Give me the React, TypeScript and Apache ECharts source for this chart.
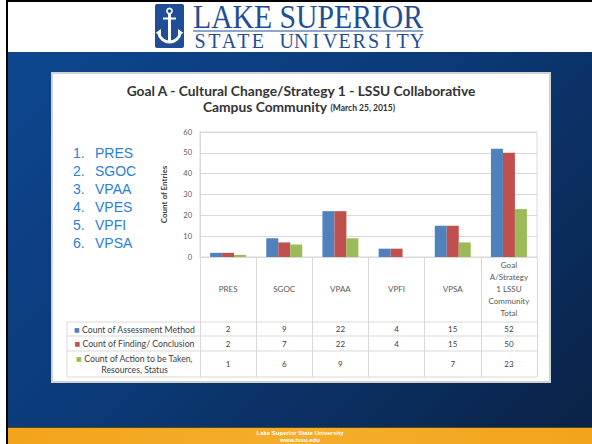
import React, { useEffect, useRef } from 'react';
import * as echarts from 'echarts';

const categories = ['PRES', 'SGOC', 'VPAA', 'VPFI', 'VPSA', 'Goal\nA/Strategy\n1 LSSU\nCommunity\nTotal'];
const assessment = [2, 9, 22, 4, 15, 52];
const finding = [2, 7, 22, 4, 15, 50];
const action: (number | null)[] = [1, 6, 9, null, 7, 23];
const seriesNames = ['Count of Assessment Method', 'Count of Finding/ Conclusion', 'Count of Action to be Taken,\nResources, Status'];
const seriesColors = ['#4f81bd', '#c0504d', '#9bbb59'];
const unitList = ['PRES', 'SGOC', 'VPAA', 'VPES', 'VPFI', 'VPSA'];
const titleLine1 = 'Goal A - Cultural Change/Strategy 1 - LSSU Collaborative';
const titleLine2 = 'Campus Community';
const titleDate = '(March 25, 2015)';
const yMin = 0;
const yMax = 60;
const yStep = 10;

export default function App() {
  const ref = useRef<HTMLDivElement>(null);
  useEffect(() => {
    const chart = echarts.init(ref.current!, null, { renderer: 'svg' });
    const seriesData = [assessment, finding, action];
    const gridLeft = 200, gridTop = 132, gridW = 337, gridH = 125;
    chart.setOption({
      animation: false,
      backgroundColor: 'transparent',
      textStyle: { fontFamily: 'Lato' },
      grid: { left: gridLeft, top: gridTop, width: gridW, height: gridH, show: true, borderColor: '#d9d9d9', borderWidth: 1 },
      xAxis: {
        type: 'category',
        data: categories,
        axisLine: { lineStyle: { color: '#d9d9d9' } },
        axisTick: { show: true, length: 120, interval: 0, lineStyle: { color: '#d9d9d9' } },
        axisLabel: { interval: 0, margin: 32, verticalAlign: 'middle', lineHeight: 12, fontSize: 8, color: '#595959', fontFamily: 'Lato' },
      },
      yAxis: {
        type: 'value', min: yMin, max: yMax, interval: yStep,
        axisLine: { show: true, lineStyle: { color: '#d9d9d9' } },
        axisTick: { show: false },
        axisLabel: { fontSize: 7.5, color: '#595959', margin: 8, fontFamily: 'Lato' },
        splitLine: { lineStyle: { color: '#d9d9d9' } },
        name: 'Count of Entries', nameLocation: 'middle', nameGap: 32, nameRotate: 90,
        nameTextStyle: { fontSize: 8, fontWeight: 'bold', color: '#404040', fontFamily: 'Lato' },
      },
      series: seriesData.map((d, i) => ({
        type: 'bar', name: seriesNames[i], data: d, barGap: 0, barCategoryGap: '36%',
        itemStyle: { color: seriesColors[i] },
      })),
    });

    const centers = categories.map((_, i) => chart.convertToPixel({ xAxisIndex: 0 }, i) as number);
    const tableLeft = 67;
    const rowEdges = [322, 336, 351, 377];
    const gridRight = gridLeft + gridW;
    const g: any[] = [];
    // Logo
    g.push({ type: 'rect', shape: { x: 155, y: 4, width: 29, height: 44, r: 2 }, style: { fill: '#1f4e96' } });
    g.push({ type: 'circle', shape: { cx: 169.5, cy: 11, r: 2.6 }, style: { fill: 'none', stroke: '#fff', lineWidth: 1.6 } });
    g.push({ type: 'line', shape: { x1: 169.5, y1: 13.5, x2: 169.5, y2: 43 }, style: { stroke: '#fff', lineWidth: 3 } });
    g.push({ type: 'line', shape: { x1: 163, y1: 18.5, x2: 176, y2: 18.5 }, style: { stroke: '#fff', lineWidth: 2 } });
    g.push({ type: 'arc', shape: { cx: 169.5, cy: 31, r: 11, startAngle: 0.15, endAngle: Math.PI - 0.15 }, style: { fill: 'none', stroke: '#fff', lineWidth: 3 } });
    g.push({ type: 'polygon', shape: { points: [[155.5, 33], [161, 29], [161, 35]] }, style: { fill: '#fff' } });
    g.push({ type: 'polygon', shape: { points: [[183.5, 33], [178, 29], [178, 35]] }, style: { fill: '#fff' } });
    g.push({ type: 'text', x: 193, y: 17, scaleX: 0.9, style: { text: 'LAKE SUPERIOR', x: 0, y: 0, fontFamily: 'Liberation Serif', fontSize: 33, fill: '#1f4e96', textVerticalAlign: 'middle' } });
    g.push({ type: 'line', shape: { x1: 193, y1: 31, x2: 423, y2: 31 }, style: { stroke: '#1f4e96', lineWidth: 1.2 } });
    const st = 'STATE UNIVERSITY';
    let k = 0;
    for (let i = 0; i < st.length; i++) {
      if (st[i] === ' ') { k++; continue; }
      g.push({ type: 'text', style: { text: st[i], x: 200 + k * 14.47, y: 40.5, fontFamily: 'Liberation Serif', fontSize: 20, fill: '#1f4e96', textAlign: 'center', textVerticalAlign: 'middle' } });
      k++;
    }
    // Title
    g.push({ type: 'text', style: { text: titleLine1, x: 301, y: 90, fontFamily: 'Lato', fontWeight: 'bold', fontSize: 13.8, lineHeight: 14, fill: '#333', textAlign: 'center', textVerticalAlign: 'middle' } });
    g.push({ type: 'text', style: { text: '{a|' + titleLine2 + '} {b|' + titleDate + '}', x: 299, y: 106, textAlign: 'center', textVerticalAlign: 'middle',
      rich: { a: { fontFamily: 'Lato', fontWeight: 'bold', fontSize: 13.8, lineHeight: 14, fill: '#333' }, b: { fontFamily: 'Lato', fontWeight: 'bold', fontSize: 8.5, lineHeight: 14, fill: '#333', verticalAlign: 'bottom', padding: [0, 0, 1, 0] } } } });
    // Left list
    unitList.forEach((u, i) => {
      const y = 153 + i * 17.9;
      g.push({ type: 'text', style: { text: (i + 1) + '.', x: 73, y, fontFamily: 'Liberation Sans', fontSize: 14, fill: '#2a80d8', textVerticalAlign: 'middle' } });
      g.push({ type: 'text', style: { text: u, x: 95, y, fontFamily: 'Liberation Sans', fontSize: 14, fill: '#2a80d8', textVerticalAlign: 'middle' } });
    });
    // Table
    rowEdges.forEach((y) => g.push({ type: 'line', shape: { x1: tableLeft, y1: y, x2: gridRight, y2: y }, style: { stroke: '#d9d9d9', lineWidth: 1 } }));
    g.push({ type: 'line', shape: { x1: tableLeft, y1: rowEdges[0], x2: tableLeft, y2: rowEdges[3] }, style: { stroke: '#d9d9d9', lineWidth: 1 } });
    seriesNames.forEach((n, r) => {
      const yc = (rowEdges[r] + rowEdges[r + 1]) / 2;
      g.push({ type: 'text', style: { text: '{m|■} ' + n, x: (tableLeft + gridLeft) / 2 + 1, y: yc, textAlign: 'center', textVerticalAlign: 'middle', fontFamily: 'Lato', fontSize: 8.7, fill: '#404040', lineHeight: 11,
        rich: { m: { fill: seriesColors[r], fontSize: 6, fontFamily: 'DejaVu Sans' } } } });
      seriesData[r].forEach((v, c) => {
        if (v === null || v === undefined) return;
        g.push({ type: 'text', style: { text: String(v), x: centers[c], y: yc, textAlign: 'center', textVerticalAlign: 'middle', fontFamily: 'Lato', fontSize: 8, fill: '#404040' } });
      });
    });
    // Footer
    g.push({ type: 'text', style: { text: 'Lake Superior State University', x: 300, y: 433, textAlign: 'center', textVerticalAlign: 'middle', fontFamily: 'Liberation Sans', fontWeight: 'bold', fontSize: 6, fill: '#fff' } });
    g.push({ type: 'text', style: { text: 'www.lssu.edu', x: 300, y: 440, textAlign: 'center', textVerticalAlign: 'middle', fontFamily: 'Liberation Sans', fontWeight: 'bold', fontSize: 6, fill: '#fff' } });
    chart.setOption({ graphic: g });
    return () => chart.dispose();
  }, []);
  return (
    <div style={{ position: 'absolute', left: 0, top: 0, width: 592, height: 444, background: '#fff', overflow: 'hidden' }}>
      <div style={{ position: 'absolute', left: 8, top: 52, width: 584, height: 375, background: 'linear-gradient(135deg, #0d468f 0%, #0b3a78 45%, #0a2246 100%)' }} />
      <div style={{ position: 'absolute', left: 8, top: 427, width: 584, height: 17, background: 'linear-gradient(90deg, #f2a41c 0%, #f5ad2a 50%, #f2a41c 100%)', borderTop: '1px solid #4e4a22', boxSizing: 'border-box' }} />
      <div style={{ position: 'absolute', left: 6, top: 0, width: 2, height: 444, background: '#000' }} />
      <div style={{ position: 'absolute', left: 6, top: 0, width: 586, height: 2, background: '#000' }} />
      <div style={{ position: 'absolute', left: 51, top: 72, width: 500, height: 311, background: '#fff', boxSizing: 'border-box', border: '2px solid #d2d2d2' }} />
      <div ref={ref} style={{ position: 'absolute', left: 0, top: 0, width: 592, height: 444 }} />
    </div>
  );
}
